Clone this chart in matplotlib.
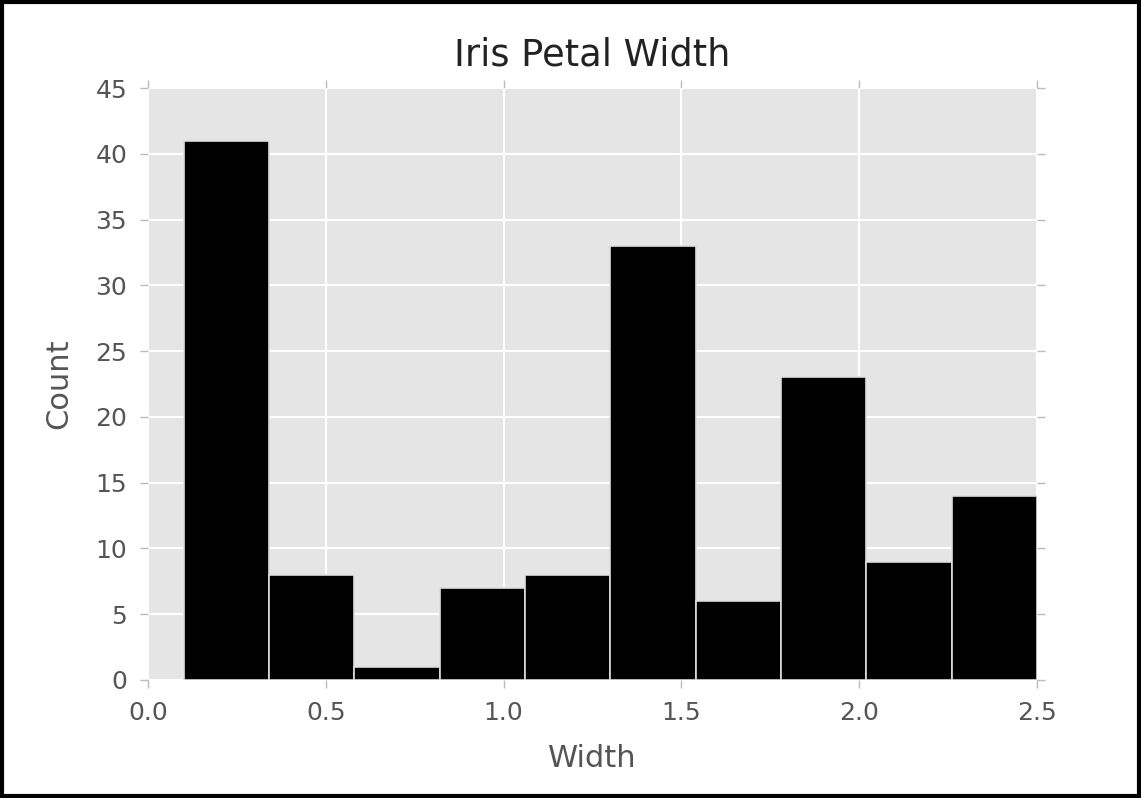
import numpy as np
import matplotlib
matplotlib.use("Agg")
import matplotlib.pyplot as plt

# Iris petal width histogram, 10 bins between 0.1 and 2.5
bin_edges = [0.1, 0.34, 0.58, 0.82, 1.06, 1.30, 1.54, 1.78, 2.02, 2.26, 2.50]
counts = [41, 8, 1, 7, 8, 33, 6, 23, 9, 14]

plt.style.use("ggplot")

fig = plt.figure(figsize=(11.41, 7.98), dpi=100)
ax = fig.add_axes([0.1297, 0.1479, 0.7792, 0.7418])

widths = np.diff(bin_edges)
ax.bar(bin_edges[:-1], counts, width=widths, align="edge",
       color="black", edgecolor="#DDDDDD", linewidth=1.2, zorder=2)

ax.set_xlim(0, 2.5)
ax.set_ylim(0, 45)
ax.set_xticks([0.0, 0.5, 1.0, 1.5, 2.0, 2.5])
ax.set_yticks(range(0, 46, 5))

ax.set_facecolor("#E5E5E5")
ax.grid(True, color="white", linewidth=1.5, zorder=0)
ax.set_axisbelow(True)
for s in ax.spines.values():
    s.set_visible(False)

ax.tick_params(axis="both", which="both", direction="out", length=6, width=1.0,
               color="#BBBBBB", labelcolor="#555555", labelsize=18,
               top=True, right=True, pad=9)

ax.set_title("Iris Petal Width", fontsize=26.5, color="#222222", pad=16)
ax.set_xlabel("Width", fontsize=22, color="#555555", labelpad=14)
ax.set_ylabel("Count", fontsize=22, color="#555555", labelpad=16)

# black frame around the figure
fig.patch.set_facecolor("white")
fig.add_artist(plt.Rectangle((0.002, 0.003), 0.996, 0.994, transform=fig.transFigure,
                             fill=False, edgecolor="black", linewidth=3))

fig.savefig("out.png", dpi=100)
